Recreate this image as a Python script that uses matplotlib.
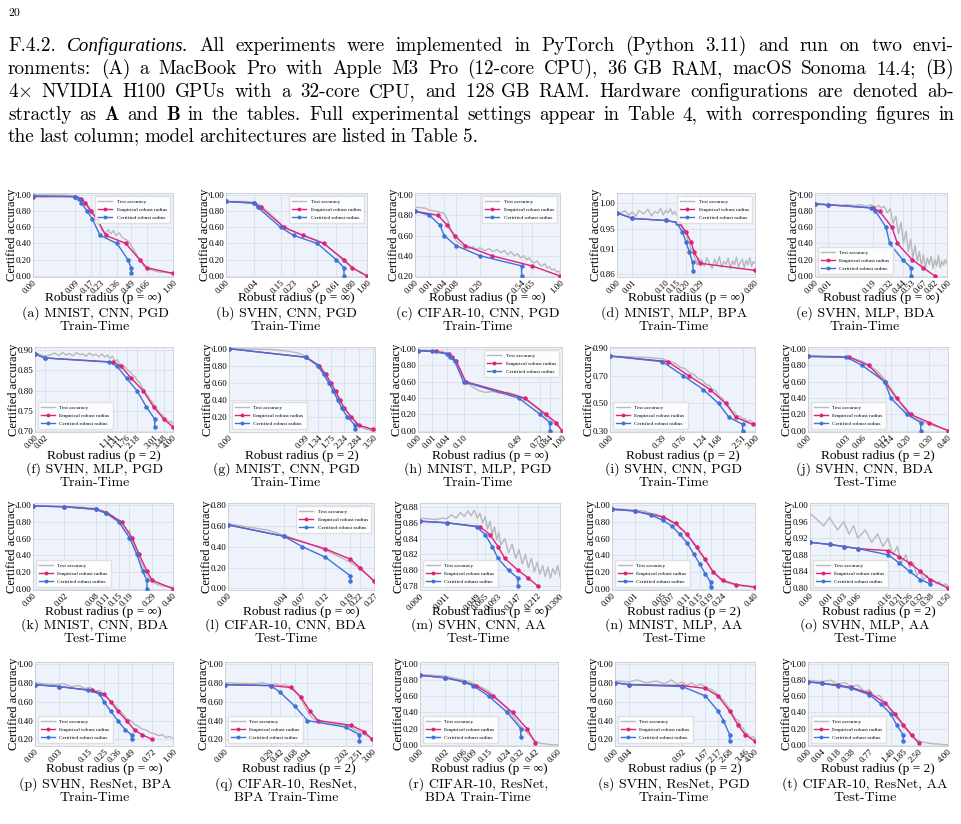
import numpy as np
import matplotlib
matplotlib.use("Agg")
import matplotlib.pyplot as plt
from matplotlib import font_manager
from matplotlib.ticker import FormatStrFormatter

W, H = 962, 824


def pick_font(names):
    for name in names:
        try:
            font_manager.findfont(name, fallback_to_default=False)
            return name
        except ValueError:
            continue
    return 'DejaVu Serif'


SERIF = pick_font(['Liberation Serif', 'Nimbus Roman', 'Times New Roman', 'DejaVu Serif'])
plt.rcParams['font.family'] = [SERIF, 'DejaVu Serif']
plt.rcParams['mathtext.fontset'] = 'cm'

PINK = '#e0217a'
BLUE = '#3d72d9'
GRAY = '#b8b8b8'
BG = '#eef2fb'
GRID = '#d9dfea'

# ---------------------------------------------------------------- page text
PAGE_NUMBER = "20"
PARAGRAPH = [
    "F.4.2. Configurations. All experiments were implemented in PyTorch (Python 3.11) and run on two envi-",
    "ronments: (A) a MacBook Pro with Apple M3 Pro (12-core CPU), 36\u00a0GB RAM, macOS Sonoma 14.4; (B)",
    "4× NVIDIA H100 GPUs with a 32-core CPU, and 128\u00a0GB RAM. Hardware configurations are denoted ab-",
    "stractly as A and B in the tables. Full experimental settings appear in Table 4, with corresponding figures in",
    "the last column; model architectures are listed in Table 5.",
]
ITALIC_WORDS = {"Configurations."}
BOLD_WORDS = {"A", "B"}

# ---------------------------------------------------------------- panel data
A_XTICKS = [0.00, 0.09, 0.17, 0.23, 0.36, 0.49, 0.66, 1.00]
A_TEST_X = [0, 0.05, 0.09, 0.11, 0.13, 0.15, 0.17, 0.19, 0.21, 0.23, 0.25, 0.27, 0.29, 0.31, 0.33,
            0.35, 0.38, 0.41, 0.44, 0.47, 0.50, 0.54, 0.58, 0.62, 0.66, 0.72, 0.80, 0.90, 1.00]
A_TEST_Y = [1.00, 1.00, 0.99, 0.97, 0.93, 0.88, 0.83, 0.76, 0.70, 0.62, 0.55, 0.53, 0.57, 0.52, 0.56,
            0.50, 0.53, 0.47, 0.45, 0.42, 0.36, 0.28, 0.20, 0.13, 0.09, 0.07, 0.05, 0.04, 0.03]
A_EMP_X = [0.00, 0.09, 0.12, 0.14, 0.17, 0.21, 0.27, 0.44, 0.58, 0.66, 1.00]
A_EMP_Y = [0.98, 0.98, 0.95, 0.90, 0.80, 0.70, 0.50, 0.40, 0.20, 0.10, 0.03]
A_CERT_X = [0.00, 0.09, 0.11, 0.12, 0.15, 0.18, 0.23, 0.36, 0.46, 0.49, 0.49]
A_CERT_Y = [0.99, 0.98, 0.95, 0.90, 0.80, 0.70, 0.50, 0.40, 0.20, 0.10, 0.03]

B_XTICKS = [0.00, 0.04, 0.15, 0.23, 0.42, 0.61, 0.80, 1.00]
B_TEST_X = [0, 0.02, 0.04, 0.06, 0.09, 0.12, 0.16, 0.20, 0.25, 0.30, 0.36, 0.42, 0.48, 0.55, 0.62,
            0.70, 0.80, 0.90, 1.00]
B_TEST_Y = [0.92, 0.92, 0.91, 0.87, 0.79, 0.71, 0.62, 0.57, 0.53, 0.50, 0.47, 0.44, 0.40, 0.33, 0.26,
            0.18, 0.10, 0.04, 0.00]
B_EMP_X = [0.00, 0.04, 0.06, 0.17, 0.30, 0.48, 0.70, 0.80, 1.00]
B_EMP_Y = [0.92, 0.90, 0.85, 0.60, 0.50, 0.40, 0.20, 0.10, 0.00]
B_CERT_X = [0.00, 0.04, 0.05, 0.15, 0.23, 0.42, 0.61, 0.70, 0.70]
B_CERT_Y = [0.92, 0.90, 0.85, 0.60, 0.50, 0.40, 0.20, 0.10, 0.00]

C_XTICKS = [0.00, 0.01, 0.04, 0.08, 0.20, 0.54, 0.65, 1.00]
C_TEST_X = [0, 0.005, 0.01, 0.02, 0.03, 0.04, 0.05, 0.06, 0.08, 0.10, 0.12, 0.14, 0.16, 0.18, 0.20,
            0.23, 0.26, 0.29, 0.32, 0.35, 0.38, 0.41, 0.44, 0.47, 0.50, 0.53, 0.56, 0.59, 0.62, 0.65,
            0.68, 0.71, 0.74, 0.77, 0.80, 0.83, 0.86, 0.89, 0.92, 0.95, 0.98, 1.00]
C_TEST_Y = [0.88, 0.87, 0.85, 0.84, 0.83, 0.82, 0.76, 0.66, 0.55, 0.51, 0.49, 0.47, 0.49, 0.46, 0.48,
            0.45, 0.47, 0.44, 0.46, 0.43, 0.45, 0.41, 0.44, 0.40, 0.42, 0.38, 0.40, 0.36, 0.38, 0.34,
            0.33, 0.35, 0.31, 0.30, 0.32, 0.28, 0.29, 0.26, 0.27, 0.24, 0.25, 0.23]
C_EMP_X = [0.00, 0.025, 0.05, 0.075, 0.12, 0.28, 0.65, 1.00]
C_EMP_Y = [0.84, 0.80, 0.70, 0.60, 0.50, 0.40, 0.30, 0.20]
C_CERT_X = [0.00, 0.01, 0.03, 0.04, 0.08, 0.20, 0.54, 0.54]
C_CERT_Y = [0.84, 0.80, 0.70, 0.60, 0.50, 0.40, 0.30, 0.20]

D_XTICKS = [0.00, 0.01, 0.10, 0.15, 0.20, 0.29, 0.80]
D_TEST_X = [0, 0.003, 0.006, 0.01, 0.015, 0.02,
            0.03, 0.04, 0.05, 0.06, 0.07, 0.08, 0.09, 0.10, 0.11, 0.12, 0.13, 0.14, 0.15, 0.16,
            0.17, 0.18, 0.19, 0.20, 0.21, 0.22, 0.23, 0.24, 0.25, 0.26, 0.27, 0.28, 0.29, 0.30,
            0.32, 0.34, 0.36, 0.38, 0.40, 0.42, 0.44, 0.46, 0.48, 0.50, 0.52, 0.54, 0.56, 0.58,
            0.60, 0.62, 0.64, 0.66, 0.68, 0.70, 0.72, 0.74, 0.76, 0.78, 0.80]
D_TEST_Y = [0.978, 0.985, 0.976, 0.983, 0.974, 0.986,
            0.979, 0.988, 0.975, 0.984, 0.980, 0.990, 0.977, 0.986, 0.981, 0.989, 0.978, 0.984, 0.976, 0.973,
            0.962, 0.955, 0.941, 0.948, 0.928, 0.921, 0.907, 0.912, 0.895, 0.889, 0.878, 0.892, 0.883, 0.889,
            0.876, 0.893, 0.881, 0.872, 0.890, 0.878, 0.895, 0.874, 0.886, 0.880, 0.892, 0.871, 0.887, 0.879,
            0.894, 0.875, 0.884, 0.890, 0.873, 0.888, 0.879, 0.893, 0.876, 0.885, 0.882]
D_EMP_X = [0.00, 0.01, 0.10, 0.16, 0.20, 0.23, 0.25, 0.29, 0.80]
D_EMP_Y = [0.981, 0.970, 0.966, 0.962, 0.943, 0.924, 0.904, 0.882, 0.868]
D_CERT_X = [0.00, 0.01, 0.10, 0.15, 0.18, 0.20, 0.22, 0.24, 0.245]
D_CERT_Y = [0.981, 0.970, 0.966, 0.962, 0.943, 0.924, 0.904, 0.884, 0.866]

E_XTICKS = [0.00, 0.01, 0.19, 0.32, 0.44, 0.53, 0.67, 0.82, 1.00]
E_TEST_X = [0, 0.01, 0.03, 0.06, 0.09, 0.12, 0.15, 0.18, 0.21, 0.23,
            0.25, 0.275, 0.30, 0.325, 0.35, 0.375, 0.40, 0.425, 0.45, 0.475, 0.50, 0.525, 0.55, 0.575,
            0.60, 0.625, 0.65, 0.675, 0.70, 0.725, 0.75, 0.775, 0.80, 0.825, 0.85, 0.875, 0.90, 0.925,
            0.95, 0.975, 1.00]
E_TEST_Y = [0.88, 0.88, 0.87, 0.88, 0.87, 0.88, 0.86, 0.88, 0.85, 0.87,
            0.84, 0.86, 0.78, 0.83, 0.65, 0.74, 0.52, 0.66, 0.40, 0.55, 0.30, 0.45, 0.22, 0.38,
            0.18, 0.30, 0.12, 0.26, 0.10, 0.22, 0.14, 0.24, 0.09, 0.20, 0.12, 0.25, 0.10, 0.18,
            0.13, 0.20, 0.15]
E_EMP_X = [0.00, 0.01, 0.19, 0.24, 0.34, 0.39, 0.54, 0.67, 0.82]
E_EMP_Y = [0.89, 0.88, 0.84, 0.80, 0.60, 0.40, 0.20, 0.10, 0.00]
E_CERT_X = [0.00, 0.01, 0.18, 0.21, 0.29, 0.32, 0.44, 0.53, 0.53]
E_CERT_Y = [0.89, 0.88, 0.84, 0.80, 0.60, 0.40, 0.20, 0.10, 0.00]

F_XTICKS = [0.00, 0.02, 1.14, 1.41, 1.76, 2.18, 3.01, 3.48, 4.00]
F_TEST_X = [0, 0.02, 0.05, 0.08, 0.12, 0.16, 0.20, 0.25, 0.30, 0.36, 0.42, 0.48, 0.55, 0.62, 0.70,
            0.78, 0.86, 0.94, 1.02, 1.10, 1.18, 1.26, 1.34, 1.42, 1.50, 1.60, 1.70, 1.80, 1.90, 2.00,
            2.10, 2.20, 2.30, 2.40, 2.50, 2.60, 2.70, 2.80, 2.90, 3.00, 3.10, 3.20, 3.30, 3.40, 3.50,
            3.60, 3.70, 3.80, 3.90, 4.00]
F_TEST_Y = [0.893, 0.884, 0.888, 0.892, 0.886, 0.894, 0.887, 0.891, 0.885, 0.893,
            0.888, 0.890, 0.884, 0.892, 0.886, 0.889, 0.883, 0.890, 0.882, 0.887,
            0.879, 0.884, 0.872, 0.876, 0.866, 0.862, 0.858, 0.850, 0.846, 0.838,
            0.834, 0.824, 0.820, 0.808, 0.803, 0.792, 0.786, 0.776, 0.772, 0.761,
            0.755, 0.750, 0.742, 0.740, 0.734, 0.730, 0.726, 0.722, 0.724, 0.716]
F_EMP_X = [0.00, 0.02, 1.28, 1.55, 1.95, 2.45, 2.95, 3.48, 4.00]
F_EMP_Y = [0.89, 0.88, 0.87, 0.86, 0.83, 0.80, 0.76, 0.73, 0.71]
F_CERT_X = [0.00, 0.02, 1.14, 1.41, 1.76, 2.18, 2.60, 3.01, 3.01]
F_CERT_Y = [0.89, 0.88, 0.87, 0.86, 0.83, 0.80, 0.76, 0.73, 0.71]

G_XTICKS = [0.00, 0.99, 1.34, 1.75, 2.24, 2.84, 3.50]
G_TEST_X = [0, 0.3, 0.6, 0.8, 0.99, 1.2, 1.4, 1.6, 1.8, 2.0, 2.2, 2.4, 2.6, 2.8, 3.0, 3.2, 3.5]
G_TEST_Y = [1.00, 0.99, 0.97, 0.95, 0.91, 0.85, 0.76, 0.65, 0.53, 0.42, 0.33, 0.24, 0.17, 0.11, 0.07,
            0.05, 0.03]
G_EMP_X = [0.00, 0.99, 1.38, 1.58, 1.75, 1.92, 2.08, 2.24, 2.52, 2.84, 3.50]
G_EMP_Y = [1.00, 0.90, 0.80, 0.70, 0.60, 0.50, 0.40, 0.30, 0.20, 0.10, 0.05]
G_CERT_X = [0.00, 0.99, 1.34, 1.51, 1.68, 1.84, 1.99, 2.15, 2.36, 2.68, 2.68]
G_CERT_Y = [1.00, 0.90, 0.80, 0.70, 0.60, 0.50, 0.40, 0.30, 0.20, 0.10, 0.05]

H_XTICKS = [0.00, 0.01, 0.04, 0.10, 0.49, 0.72, 0.84, 1.00]
H_TEST_X = [0, 0.01, 0.03, 0.05, 0.07, 0.09, 0.11, 0.14, 0.18, 0.22, 0.27, 0.32, 0.38, 0.44, 0.50,
            0.57, 0.64, 0.72, 0.80, 0.88, 0.95, 1.00]
H_TEST_Y = [0.99, 0.98, 0.97, 0.92, 0.84, 0.70, 0.60, 0.54, 0.49, 0.47, 0.48, 0.46, 0.47, 0.45, 0.42,
            0.37, 0.31, 0.24, 0.17, 0.10, 0.05, 0.00]
H_EMP_X = [0.00, 0.015, 0.045, 0.056, 0.071, 0.11, 0.55, 0.79, 0.92, 1.00]
H_EMP_Y = [0.98, 0.97, 0.94, 0.90, 0.85, 0.60, 0.40, 0.20, 0.10, 0.00]
H_CERT_X = [0.00, 0.01, 0.04, 0.05, 0.065, 0.10, 0.49, 0.72, 0.84, 0.84]
H_CERT_Y = [0.98, 0.97, 0.94, 0.90, 0.85, 0.60, 0.40, 0.20, 0.10, 0.00]

I_XTICKS = [0.00, 0.39, 0.76, 1.24, 1.68, 2.51, 3.00]
I_TEST_X = [0, 0.2, 0.4, 0.5, 0.6, 0.7, 0.8, 0.9, 1.0, 1.1, 1.2, 1.3, 1.4, 1.5, 1.6, 1.7, 1.8, 1.9,
            2.0, 2.1, 2.2, 2.3, 2.4, 2.5, 2.6, 2.7, 2.8, 2.9, 3.0]
I_TEST_Y = [0.84, 0.83, 0.82, 0.80, 0.79, 0.76, 0.75, 0.72, 0.71, 0.68, 0.67, 0.64, 0.63, 0.60, 0.59,
            0.55, 0.54, 0.50, 0.49, 0.45, 0.44, 0.41, 0.41, 0.39, 0.39, 0.37, 0.38, 0.36, 0.36]
I_EMP_X = [0.00, 0.48, 0.88, 1.43, 1.91, 2.26, 2.90]
I_EMP_Y = [0.84, 0.80, 0.70, 0.60, 0.50, 0.40, 0.35]
I_CERT_X = [0.00, 0.39, 0.76, 1.24, 1.68, 2.02, 2.51, 2.51]
I_CERT_Y = [0.84, 0.80, 0.70, 0.60, 0.50, 0.40, 0.35, 0.30]

J_XTICKS = [0.00, 0.03, 0.06, 0.12, 0.14, 0.20, 0.30, 0.40]
J_TEST_X = [0, 0.02, 0.04, 0.06, 0.08, 0.10, 0.12, 0.14, 0.16, 0.18, 0.20, 0.22, 0.25, 0.28, 0.31,
            0.34, 0.37, 0.40]
J_TEST_Y = [0.92, 0.91, 0.89, 0.85, 0.79, 0.72, 0.63, 0.52, 0.41, 0.31, 0.23, 0.17, 0.13, 0.10, 0.07,
            0.05, 0.03, 0.01]
J_EMP_X = [0.00, 0.035, 0.075, 0.12, 0.16, 0.215, 0.30, 0.40]
J_EMP_Y = [0.91, 0.90, 0.80, 0.60, 0.40, 0.20, 0.10, 0.00]
J_CERT_X = [0.00, 0.03, 0.06, 0.12, 0.14, 0.20, 0.26, 0.26]
J_CERT_Y = [0.91, 0.90, 0.80, 0.60, 0.40, 0.20, 0.10, 0.00]

K_XTICKS = [0.00, 0.02, 0.08, 0.11, 0.15, 0.19, 0.29, 0.40]
K_TEST_X = [0, 0.04, 0.08, 0.11, 0.13, 0.15, 0.17, 0.18, 0.19, 0.195, 0.20, 0.22, 0.24, 0.26, 0.28,
            0.30, 0.33, 0.36, 0.40]
K_TEST_Y = [0.99, 0.98, 0.96, 0.92, 0.87, 0.80, 0.71, 0.65, 0.70, 0.60, 0.58, 0.43, 0.30, 0.18, 0.11,
            0.07, 0.04, 0.03, 0.02]
K_EMP_X = [0.00, 0.02, 0.08, 0.11, 0.16, 0.20, 0.23, 0.265, 0.29, 0.40]
K_EMP_Y = [0.99, 0.98, 0.95, 0.91, 0.80, 0.61, 0.41, 0.21, 0.10, 0.00]
K_CERT_X = [0.00, 0.02, 0.08, 0.11, 0.15, 0.19, 0.22, 0.245, 0.265, 0.265]
K_CERT_Y = [0.99, 0.98, 0.95, 0.90, 0.80, 0.61, 0.41, 0.21, 0.10, 0.00]

L_XTICKS = [0.00, 0.04, 0.07, 0.12, 0.19, 0.22, 0.27]
L_TEST_X = [0, 0.02, 0.04, 0.07, 0.10, 0.13, 0.16, 0.19, 0.22, 0.25, 0.27]
L_TEST_Y = [0.62, 0.56, 0.51, 0.45, 0.40, 0.35, 0.30, 0.25, 0.19, 0.12, 0.07]
L_EMP_X = [0.00, 0.04, 0.12, 0.19, 0.22, 0.27]
L_EMP_Y = [0.61, 0.50, 0.38, 0.28, 0.20, 0.07]
L_CERT_X = [0.00, 0.04, 0.07, 0.12, 0.19, 0.19]
L_CERT_Y = [0.61, 0.50, 0.40, 0.30, 0.12, 0.07]

M_XTICKS = [0.000, 0.011, 0.049, 0.065, 0.093, 0.147, 0.212, 0.300]
M_TEST_X = [0, 0.004, 0.008, 0.011, 0.015, 0.020, 0.025, 0.030, 0.035, 0.040, 0.045, 0.050, 0.055,
            0.060, 0.065, 0.070, 0.075, 0.080, 0.085, 0.090, 0.095, 0.100, 0.110, 0.120, 0.130, 0.140,
            0.150, 0.160, 0.170, 0.180, 0.190, 0.200, 0.210, 0.220, 0.230, 0.240, 0.250, 0.260, 0.270,
            0.280, 0.290, 0.300]
M_TEST_Y = [0.866, 0.864, 0.866, 0.865, 0.870, 0.866, 0.873, 0.868, 0.875, 0.869, 0.876, 0.866, 0.872,
            0.860, 0.868, 0.852, 0.862, 0.845, 0.855, 0.838, 0.848, 0.832, 0.840, 0.822, 0.833, 0.815,
            0.826, 0.808, 0.820, 0.803, 0.815, 0.798, 0.810, 0.795, 0.806, 0.792, 0.804, 0.790, 0.802,
            0.795, 0.806, 0.792]
M_EMP_X = [0.000, 0.011, 0.055, 0.075, 0.093, 0.110, 0.147, 0.180, 0.212]
M_EMP_Y = [0.862, 0.860, 0.855, 0.845, 0.830, 0.815, 0.800, 0.790, 0.780]
M_CERT_X = [0.000, 0.011, 0.049, 0.065, 0.080, 0.093, 0.120, 0.147, 0.147]
M_CERT_Y = [0.862, 0.860, 0.855, 0.845, 0.830, 0.815, 0.800, 0.790, 0.780]

N_XTICKS = [0.00, 0.01, 0.05, 0.07, 0.11, 0.15, 0.19, 0.24, 0.40]
N_TEST_X = [0, 0.01, 0.02, 0.03, 0.04, 0.05, 0.06, 0.07, 0.08, 0.09, 0.10, 0.11, 0.12, 0.13, 0.14,
            0.15, 0.16, 0.17, 0.18, 0.19, 0.20, 0.21, 0.22, 0.23, 0.24, 0.26, 0.28, 0.30, 0.32, 0.34,
            0.36, 0.38, 0.40]
N_TEST_Y = [0.96, 0.94, 0.93, 0.90, 0.89, 0.85, 0.84, 0.79, 0.78, 0.72, 0.70, 0.63, 0.60, 0.53, 0.50,
            0.43, 0.40, 0.33, 0.30, 0.24, 0.21, 0.17, 0.14, 0.11, 0.09, 0.07, 0.06, 0.05, 0.04, 0.03,
            0.03, 0.02, 0.02]
N_EMP_X = [0.00, 0.01, 0.05, 0.08, 0.11, 0.14, 0.17, 0.20, 0.24, 0.30, 0.40]
N_EMP_Y = [0.95, 0.93, 0.86, 0.78, 0.65, 0.50, 0.35, 0.20, 0.10, 0.05, 0.02]
N_CERT_X = [0.00, 0.01, 0.03, 0.05, 0.07, 0.09, 0.11, 0.13, 0.15, 0.17, 0.19, 0.19]
N_CERT_Y = [0.95, 0.93, 0.88, 0.82, 0.75, 0.65, 0.55, 0.42, 0.30, 0.18, 0.08, 0.02]

O_XTICKS = [0.00, 0.01, 0.03, 0.06, 0.16, 0.21, 0.26, 0.32, 0.38, 0.50]
O_TEST_X = [0, 0.005, 0.01, 0.02, 0.03, 0.04, 0.05, 0.06, 0.08, 0.10, 0.12, 0.14, 0.16, 0.18, 0.20,
            0.22, 0.24, 0.26, 0.28, 0.30, 0.32, 0.34, 0.36, 0.38, 0.40, 0.42, 0.44, 0.46, 0.48, 0.50]
O_TEST_Y = [0.98, 0.95, 0.97, 0.94, 0.96, 0.93, 0.95, 0.92, 0.94, 0.91, 0.93, 0.90, 0.92, 0.88, 0.90,
            0.86, 0.88, 0.85, 0.86, 0.83, 0.84, 0.82, 0.83, 0.81, 0.82, 0.81, 0.815, 0.805, 0.81, 0.805]
O_EMP_X = [0.00, 0.01, 0.03, 0.06, 0.16, 0.21, 0.26, 0.32, 0.38, 0.50]
O_EMP_Y = [0.91, 0.905, 0.90, 0.895, 0.89, 0.875, 0.86, 0.84, 0.82, 0.80]
O_CERT_X = [0.00, 0.01, 0.03, 0.06, 0.16, 0.21, 0.26, 0.32, 0.38]
O_CERT_Y = [0.91, 0.905, 0.90, 0.895, 0.88, 0.86, 0.84, 0.82, 0.81]

P_XTICKS = [0.00, 0.03, 0.15, 0.25, 0.36, 0.49, 0.72, 1.00]
P_TEST_X = [0, 0.02, 0.04, 0.07, 0.10, 0.13, 0.16, 0.19, 0.22, 0.25, 0.28, 0.31, 0.34, 0.37, 0.40,
            0.44, 0.48, 0.52, 0.56, 0.60, 0.65, 0.70, 0.75, 0.80, 0.85, 0.90, 0.95, 1.00]
P_TEST_Y = [0.80, 0.78, 0.79, 0.76, 0.77, 0.74, 0.75, 0.71, 0.72, 0.66, 0.64, 0.58, 0.56, 0.50, 0.48,
            0.42, 0.40, 0.36, 0.34, 0.31, 0.30, 0.27, 0.26, 0.24, 0.25, 0.22, 0.23, 0.21]
P_EMP_X = [0.00, 0.03, 0.17, 0.25, 0.30, 0.36, 0.44, 0.52, 0.60, 0.72]
P_EMP_Y = [0.78, 0.76, 0.72, 0.68, 0.60, 0.50, 0.40, 0.30, 0.25, 0.20]
P_CERT_X = [0.00, 0.03, 0.15, 0.22, 0.25, 0.30, 0.36, 0.43, 0.49, 0.49]
P_CERT_Y = [0.78, 0.76, 0.72, 0.68, 0.60, 0.50, 0.40, 0.30, 0.25, 0.20]

Q_XTICKS = [0.00, 0.29, 0.42, 0.68, 0.94, 2.02, 2.51, 3.00]
Q_TEST_X = [0, 0.10, 0.20, 0.29, 0.36, 0.42, 0.50, 0.60, 0.68, 0.76, 0.85, 0.94, 1.05, 1.20, 1.40,
            1.60, 1.80, 2.02, 2.20, 2.35, 2.51, 2.70, 2.85, 3.00]
Q_TEST_Y = [0.80, 0.79, 0.80, 0.78, 0.79, 0.77, 0.78, 0.75, 0.72, 0.66, 0.58, 0.50, 0.43, 0.39, 0.37,
            0.36, 0.36, 0.35, 0.33, 0.30, 0.28, 0.25, 0.23, 0.21]
Q_EMP_X = [0.00, 0.29, 0.60, 0.80, 1.00, 1.20, 2.20, 2.70, 3.00]
Q_EMP_Y = [0.78, 0.77, 0.75, 0.65, 0.50, 0.40, 0.35, 0.28, 0.20]
Q_CERT_X = [0.00, 0.29, 0.42, 0.68, 0.94, 2.02, 2.51, 2.51]
Q_CERT_Y = [0.78, 0.77, 0.70, 0.55, 0.40, 0.33, 0.25, 0.18]

R_XTICKS = [0.00, 0.02, 0.06, 0.09, 0.15, 0.24, 0.32, 0.42, 0.60]
R_TEST_X = [0, 0.02, 0.04, 0.06, 0.09, 0.12, 0.15, 0.18, 0.21, 0.24, 0.27, 0.30, 0.33, 0.36, 0.39,
            0.42, 0.45, 0.50, 0.55, 0.60]
R_TEST_Y = [0.87, 0.85, 0.82, 0.80, 0.76, 0.71, 0.66, 0.59, 0.52, 0.44, 0.36, 0.28, 0.21, 0.15, 0.10,
            0.05, 0.02, 0.01, 0.00, 0.00]
R_EMP_X = [0.00, 0.02, 0.06, 0.10, 0.17, 0.27, 0.36, 0.42]
R_EMP_Y = [0.86, 0.83, 0.78, 0.73, 0.60, 0.40, 0.20, 0.02]
R_CERT_X = [0.00, 0.02, 0.06, 0.09, 0.15, 0.24, 0.32, 0.32]
R_CERT_Y = [0.86, 0.83, 0.78, 0.73, 0.60, 0.40, 0.20, 0.10]

S_XTICKS = [0.00, 0.04, 0.92, 1.67, 2.17, 2.68, 3.46, 4.00]
S_TEST_X = [0, 0.04, 0.10, 0.20, 0.35, 0.50, 0.65, 0.80, 0.92, 1.05, 1.20, 1.35, 1.50, 1.67, 1.80,
            1.95, 2.05, 2.17, 2.30, 2.45, 2.55, 2.68, 2.80, 2.95, 3.10, 3.25, 3.35, 3.46, 3.60, 3.75,
            3.90, 4.00]
S_TEST_Y = [0.82, 0.81, 0.83, 0.80, 0.82, 0.79, 0.83, 0.78, 0.81, 0.77, 0.80, 0.76, 0.79, 0.75, 0.74,
            0.72, 0.70, 0.67, 0.64, 0.60, 0.57, 0.52, 0.48, 0.42, 0.40, 0.33, 0.32, 0.27, 0.26, 0.22,
            0.23, 0.20]
S_EMP_X = [0.00, 0.04, 0.92, 1.67, 2.17, 2.68, 3.10, 3.46, 4.00]
S_EMP_Y = [0.80, 0.78, 0.77, 0.74, 0.66, 0.50, 0.35, 0.25, 0.18]
S_CERT_X = [0.00, 0.04, 0.92, 1.67, 2.17, 2.40, 2.68, 2.68]
S_CERT_Y = [0.80, 0.78, 0.76, 0.66, 0.50, 0.40, 0.25, 0.18]

T_XTICKS = [0.00, 0.04, 0.18, 0.38, 0.77, 1.40, 1.85, 2.50, 4.00]
T_TEST_X = [0, 0.04, 0.10, 0.18, 0.28, 0.38, 0.50, 0.65, 0.77, 0.90, 1.05, 1.20, 1.30, 1.40, 1.50,
            1.60, 1.70, 1.85, 2.00, 2.15, 2.30, 2.50, 2.75, 3.00, 3.25, 3.50, 3.75, 4.00]
T_TEST_Y = [0.80, 0.78, 0.80, 0.75, 0.77, 0.72, 0.74, 0.66, 0.68, 0.60, 0.61, 0.52, 0.50, 0.42, 0.40,
            0.33, 0.30, 0.22, 0.18, 0.12, 0.08, 0.05, 0.03, 0.02, 0.01, 0.01, 0.00, 0.00]
T_EMP_X = [0.00, 0.04, 0.18, 0.38, 0.77, 1.20, 1.55, 1.85, 2.20, 2.50]
T_EMP_Y = [0.78, 0.76, 0.74, 0.71, 0.64, 0.52, 0.38, 0.25, 0.12, 0.02]
T_CERT_X = [0.00, 0.04, 0.18, 0.38, 0.77, 1.10, 1.40, 1.60, 1.85, 1.85]
T_CERT_Y = [0.78, 0.76, 0.73, 0.70, 0.62, 0.50, 0.38, 0.25, 0.12, 0.05]

Y01 = [0.00, 0.20, 0.40, 0.60, 0.80, 1.00]
Y21 = [0.20, 0.40, 0.60, 0.80, 1.00]

# (test x, test y, emp x, emp y, cert x, cert y, xticks, xmax, ylim, yticks, norm, legend, decimals, caption)
PANELS = [
    (A_TEST_X, A_TEST_Y, A_EMP_X, A_EMP_Y, A_CERT_X, A_CERT_Y, A_XTICKS, 1.0, (-0.015, 1.025), Y01, "∞", "upper right", 2, ("(a) MNIST, CNN, PGD", "Train-Time")),
    (B_TEST_X, B_TEST_Y, B_EMP_X, B_EMP_Y, B_CERT_X, B_CERT_Y, B_XTICKS, 1.0, (-0.015, 1.025), Y01, "∞", "upper right", 2, ("(b) SVHN, CNN, PGD", "Train-Time")),
    (C_TEST_X, C_TEST_Y, C_EMP_X, C_EMP_Y, C_CERT_X, C_CERT_Y, C_XTICKS, 1.0, (0.19, 1.02), Y21, "∞", "upper right", 2, ("(c) CIFAR-10, CNN, PGD", "Train-Time")),
    (D_TEST_X, D_TEST_Y, D_EMP_X, D_EMP_Y, D_CERT_X, D_CERT_Y, D_XTICKS, 0.8, (0.855, 1.02), [0.86, 0.91, 0.95, 1.00], "∞", "upper right", 2, ("(d) MNIST, MLP, BPA", "Train-Time")),
    (E_TEST_X, E_TEST_Y, E_EMP_X, E_EMP_Y, E_CERT_X, E_CERT_Y, E_XTICKS, 1.0, (-0.015, 1.025), Y01, "∞", "lower left", 2, ("(e) SVHN, MLP, BDA", "Train-Time")),
    (F_TEST_X, F_TEST_Y, F_EMP_X, F_EMP_Y, F_CERT_X, F_CERT_Y, F_XTICKS, 4.0, (0.698, 0.907), [0.70, 0.75, 0.80, 0.85, 0.90], "2", "lower left", 2, ("(f) SVHN, MLP, PGD", "Train-Time")),
    (G_TEST_X, G_TEST_Y, G_EMP_X, G_EMP_Y, G_CERT_X, G_CERT_Y, G_XTICKS, 3.6, (0.02, 1.02), Y21, "2", "lower left", 2, ("(g) MNIST, CNN, PGD", "Train-Time")),
    (H_TEST_X, H_TEST_Y, H_EMP_X, H_EMP_Y, H_CERT_X, H_CERT_Y, H_XTICKS, 1.0, (-0.015, 1.025), Y01, "∞", "upper right", 2, ("(h) MNIST, MLP, PGD", "Train-Time")),
    (I_TEST_X, I_TEST_Y, I_EMP_X, I_EMP_Y, I_CERT_X, I_CERT_Y, I_XTICKS, 3.0, (0.295, 0.905), [0.30, 0.50, 0.70, 0.90], "2", "lower left", 2, ("(i) SVHN, CNN, PGD", "Train-Time")),
    (J_TEST_X, J_TEST_Y, J_EMP_X, J_EMP_Y, J_CERT_X, J_CERT_Y, J_XTICKS, 0.4, (-0.015, 1.025), Y01, "2", "lower left", 2, ("(j) SVHN, CNN, BDA", "Test-Time")),
    (K_TEST_X, K_TEST_Y, K_EMP_X, K_EMP_Y, K_CERT_X, K_CERT_Y, K_XTICKS, 0.4, (-0.015, 1.025), Y01, "∞", "lower left", 2, ("(k) MNIST, CNN, BDA", "Test-Time")),
    (L_TEST_X, L_TEST_Y, L_EMP_X, L_EMP_Y, L_CERT_X, L_CERT_Y, L_XTICKS, 0.27, (-0.015, 0.82), [0.00, 0.20, 0.40, 0.60, 0.80], "∞", "upper right", 2, ("(l) CIFAR-10, CNN, BDA", "Test-Time")),
    (M_TEST_X, M_TEST_Y, M_EMP_X, M_EMP_Y, M_CERT_X, M_CERT_Y, M_XTICKS, 0.3, (0.775, 0.885), [0.78, 0.80, 0.82, 0.84, 0.86, 0.88], "∞", "lower left", 3, ("(m) SVHN, CNN, AA", "Test-Time")),
    (N_TEST_X, N_TEST_Y, N_EMP_X, N_EMP_Y, N_CERT_X, N_CERT_Y, N_XTICKS, 0.4, (-0.015, 1.025), Y01, "2", "lower left", 2, ("(n) MNIST, MLP, AA", "Test-Time")),
    (O_TEST_X, O_TEST_Y, O_EMP_X, O_EMP_Y, O_CERT_X, O_CERT_Y, O_XTICKS, 0.5, (0.795, 1.005), [0.80, 0.84, 0.88, 0.92, 0.96, 1.00], "2", "lower left", 2, ("(o) SVHN, MLP, AA", "Test-Time")),
    (P_TEST_X, P_TEST_Y, P_EMP_X, P_EMP_Y, P_CERT_X, P_CERT_Y, P_XTICKS, 1.0, (0.13, 1.02), Y21, "∞", "lower left", 2, ("(p) SVHN, ResNet, BPA", "Train-Time")),
    (Q_TEST_X, Q_TEST_Y, Q_EMP_X, Q_EMP_Y, Q_CERT_X, Q_CERT_Y, Q_XTICKS, 3.0, (0.13, 1.02), Y21, "2", "lower left", 2, ("(q) CIFAR-10, ResNet,", "BPA Train-Time")),
    (R_TEST_X, R_TEST_Y, R_EMP_X, R_EMP_Y, R_CERT_X, R_CERT_Y, R_XTICKS, 0.6, (-0.015, 1.025), Y01, "∞", "lower left", 2, ("(r) CIFAR-10, ResNet,", "BDA Train-Time")),
    (S_TEST_X, S_TEST_Y, S_EMP_X, S_EMP_Y, S_CERT_X, S_CERT_Y, S_XTICKS, 4.0, (0.13, 1.02), Y21, "2", "lower left", 2, ("(s) SVHN, ResNet, PGD", "Train-Time")),
    (T_TEST_X, T_TEST_Y, T_EMP_X, T_EMP_Y, T_CERT_X, T_CERT_Y, T_XTICKS, 4.0, (-0.015, 1.025), Y01, "2", "lower left", 2, ("(t) CIFAR-10, ResNet, AA", "Test-Time")),
]

# page layout in pixels
ROW_TB = [(193, 277), (347, 432), (503, 590), (662, 746)]
ROW_XLABEL = [298, 456, 612, 769]
ROW_CAPTION = [(313, 327), (469, 483), (625, 639), (784, 798)]
COL_LR = [
    [(33, 173), (226, 367), (415, 560), (617, 755), (815, 947)],
    [(35, 173), (229, 375), (418, 562), (610, 755), (808, 948)],
    [(33, 173), (228, 374), (420, 560), (612, 755), (810, 948)],
    [(35, 173), (225, 372), (420, 558), (615, 755), (808, 948)],
]
COL_CENTER = [95, 286, 478, 674, 865]


def sqrt_fwd(x):
    return np.sqrt(np.maximum(x, 0))


def sqrt_inv(x):
    return np.square(x)


def draw_panel(ax, panel):
    (tx, ty, ex, ey, cx, cy, xticks, xmax, ylim, yticks,
     norm, legend_loc, dec, _caption) = panel
    ax.set_facecolor(BG)
    ax.set_xscale('function', functions=(sqrt_fwd, sqrt_inv))
    ax.plot(tx, ty, color=GRAY, lw=1.0, label='Test accuracy', zorder=2)
    ax.plot(ex, ey, color=PINK, lw=1.0, marker='o', ms=2.2, label='Empirical robust radius', zorder=3)
    ax.plot(cx, cy, color=BLUE, lw=1.0, marker='o', ms=2.2, label='Certified robust radius', zorder=4)
    ax.set_xlim(0, xmax)
    ax.set_ylim(*ylim)
    ax.set_xticks(xticks)
    ax.set_xticklabels([f"{v:.{dec}f}" for v in xticks], rotation=45, ha='right',
                       rotation_mode='anchor', family=SERIF)
    ax.set_yticks(yticks)
    ax.yaxis.set_major_formatter(FormatStrFormatter('%.2f'))
    for lab in ax.get_yticklabels():
        lab.set_family(SERIF)
    ax.tick_params(length=0, labelsize=6.5, pad=1.5)
    ax.grid(True, color=GRID, lw=0.6)
    ax.set_axisbelow(True)
    for s in ax.spines.values():
        s.set_color('#c9ccd2')
        s.set_linewidth(0.6)
    ax.legend(loc=legend_loc, frameon=True, framealpha=0.85,
              edgecolor='#dddddd', fancybox=True, handlelength=2.6, borderpad=0.6,
              labelspacing=0.6, markerscale=0.8, prop={'family': SERIF, 'size': 3.9})


def draw_paragraph(fig, renderer):
    fig.text(8 / W, 1 - 16 / H, PAGE_NUMBER, family='cmr10', fontsize=8.5, va='baseline')
    left, right = 8, 954
    baselines = [51, 74, 97, 120, 142]
    for i, line in enumerate(PARAGRAPH):
        words = line.split(' ')
        arts = []
        for w in words:
            kw = dict(family='cmr10')
            txt = w.replace('\u00a0', ' ')
            if w in ITALIC_WORDS:
                kw = dict(family=SERIF, style='italic')
            elif w in BOLD_WORDS and i == 3:
                kw = dict(family='cmb10')
            elif w == "4×":
                txt = r"4$\times$"
            arts.append(fig.text(0, 1 - baselines[i] / H, txt, fontsize=13.8,
                                 va='baseline', ha='left', **kw))
        widths = [a.get_window_extent(renderer).width for a in arts]
        if i < len(PARAGRAPH) - 1:
            gap = (right - left - sum(widths)) / (len(arts) - 1)
        else:
            gap = 4.6
        x = left
        for a, wd in zip(arts, widths):
            a.set_x(x / W)
            x += wd + gap


def main():
    fig = plt.figure(figsize=(W / 100, H / 100), dpi=100)
    renderer = fig.canvas.get_renderer()
    draw_paragraph(fig, renderer)

    for idx, panel in enumerate(PANELS):
        row, col = divmod(idx, 5)
        top, bottom = ROW_TB[row]
        left, right = COL_LR[row][col]
        ax = fig.add_axes([left / W, 1 - bottom / H, (right - left) / W, (bottom - top) / H])
        draw_panel(ax, panel)
        height = bottom - top
        ax.set_xlabel(f"Robust radius (p = {panel[10]})", fontsize=9.6, family=SERIF)
        ax.xaxis.set_label_coords(0.5, -(ROW_XLABEL[row] - bottom) / height, transform=ax.transAxes)
        ax.set_ylabel("Certified accuracy", fontsize=9, family=SERIF)
        ax.yaxis.set_label_coords(-21 / (right - left), 0.5, transform=ax.transAxes)
        ax.xaxis.label.set_va('center')
        ax.yaxis.label.set_va('center')
        cap1, cap2 = panel[13]
        fig.text(COL_CENTER[col] / W, 1 - ROW_CAPTION[row][0] / H, cap1, family='cmr10',
                 fontsize=10, ha='center', va='center')
        fig.text(COL_CENTER[col] / W, 1 - ROW_CAPTION[row][1] / H, cap2, family='cmr10',
                 fontsize=10, ha='center', va='center')

    fig.savefig("out.png", dpi=100)
    plt.close(fig)


if __name__ == "__main__":
    main()
